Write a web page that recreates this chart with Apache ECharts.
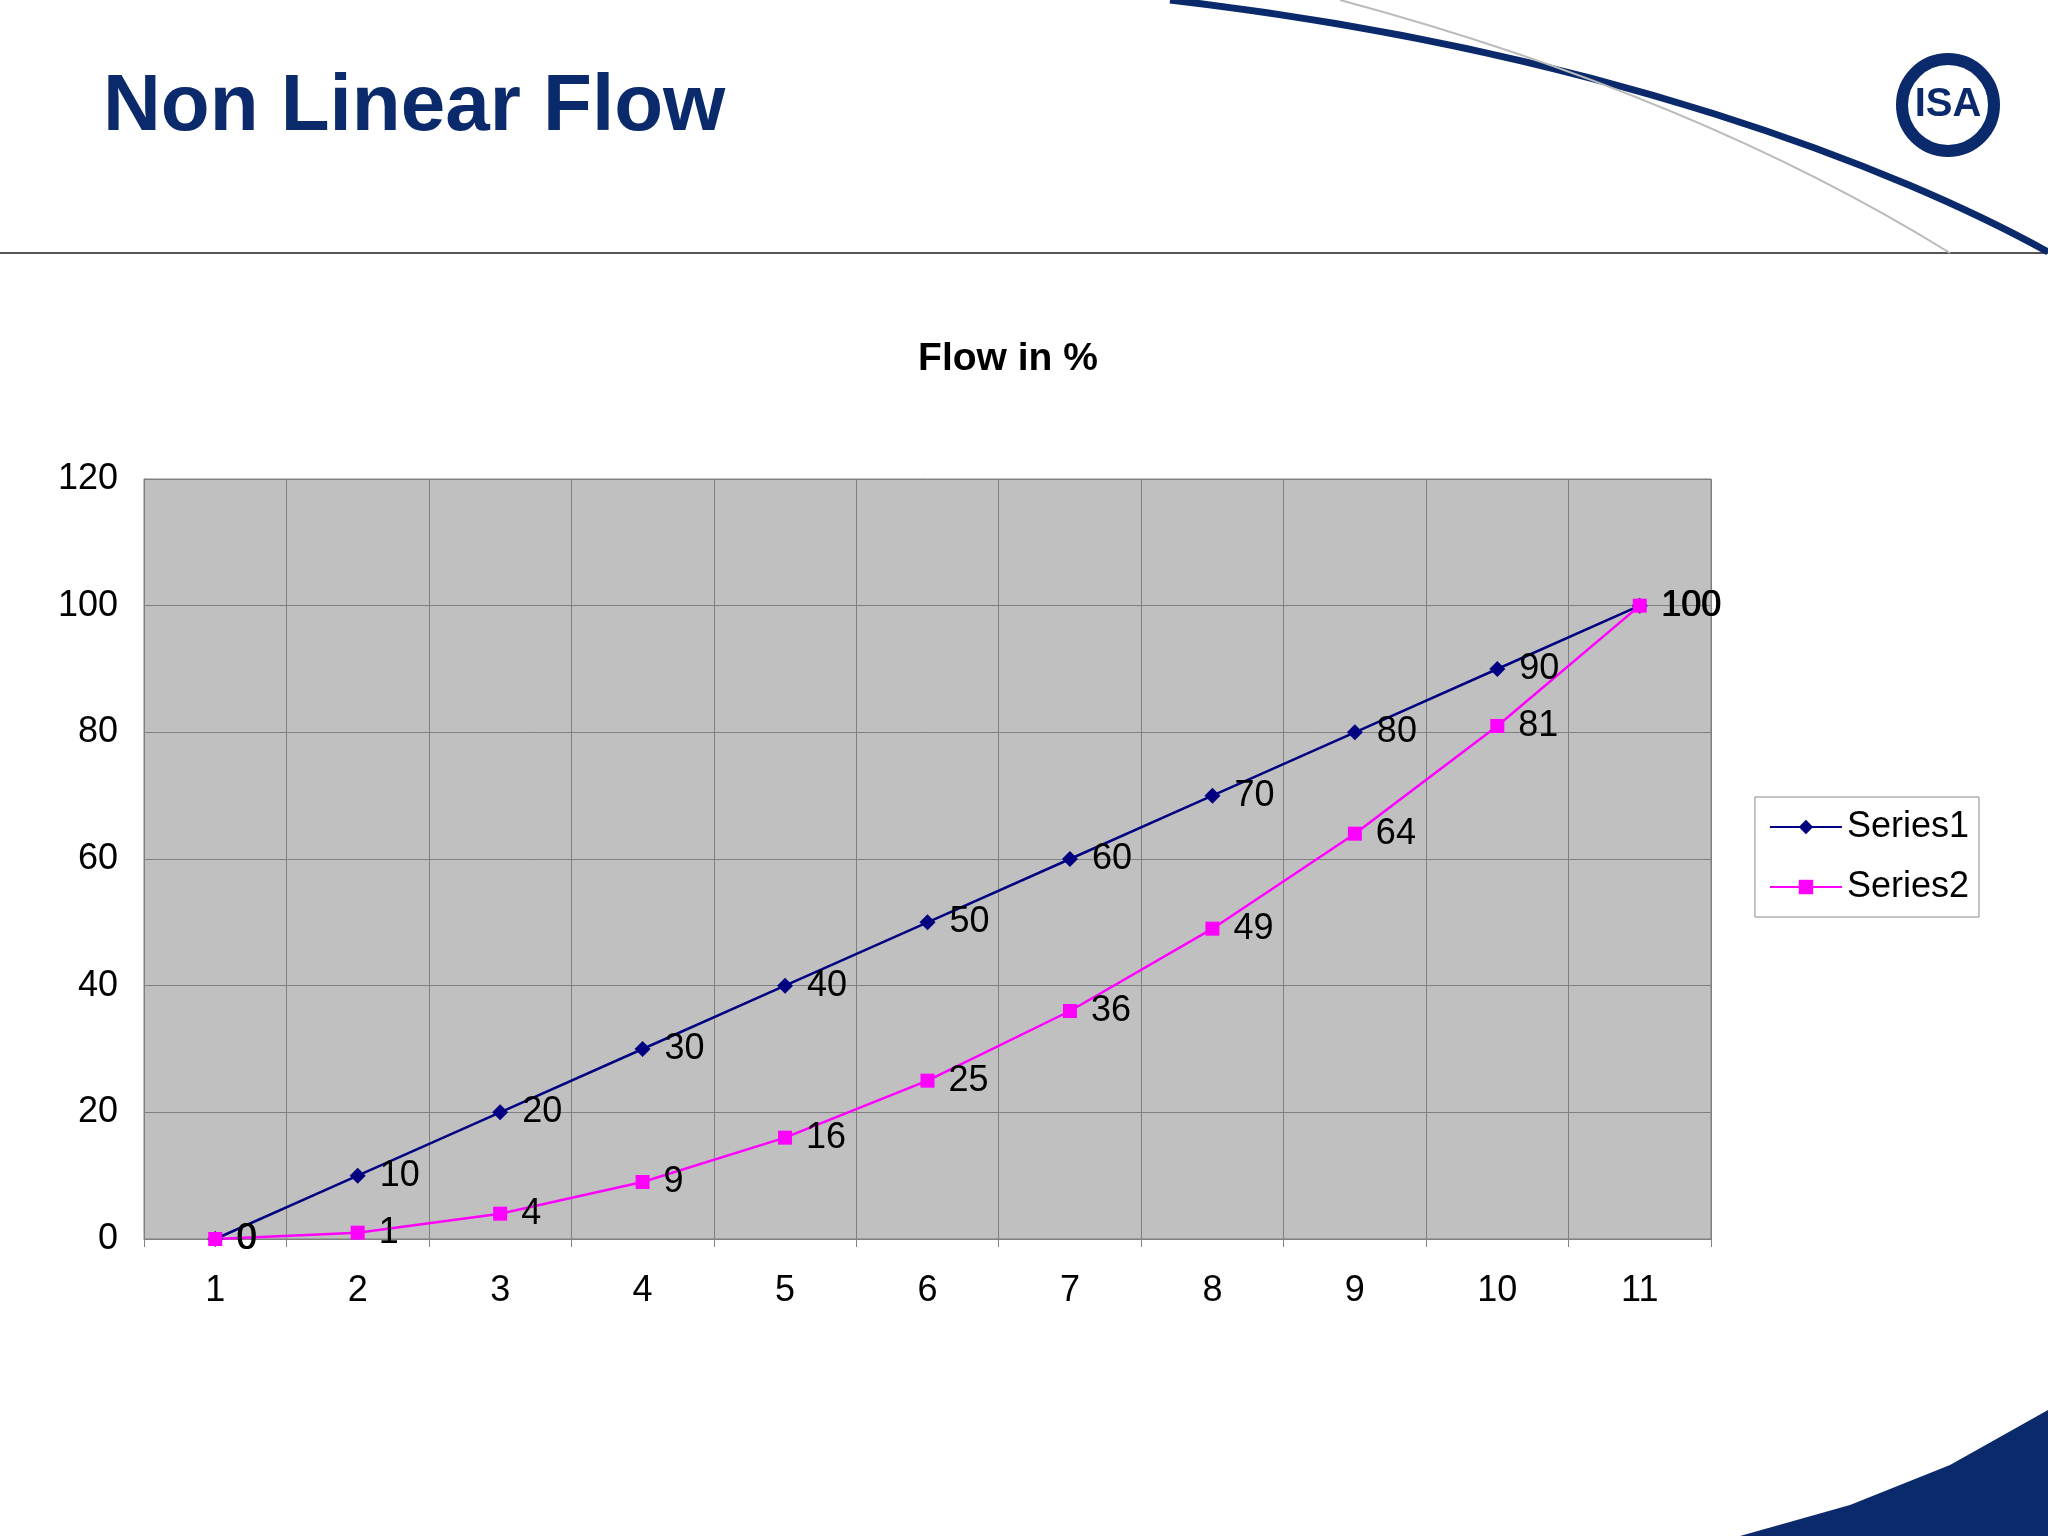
<!DOCTYPE html>
<html><head><meta charset="utf-8">
<script src="https://cdn.jsdelivr.net/npm/echarts@6/dist/echarts.min.js"></script>
<style>html,body{margin:0;background:#fff}#c{width:2048px;height:1536px}</style>
</head><body><div id="c"></div>
<script>
const categories = ['1','2','3','4','5','6','7','8','9','10','11'];
const series1 = [0,10,20,30,40,50,60,70,80,90,100];
const series2 = [0,1,4,9,16,25,36,49,64,81,100];
const chart = echarts.init(document.getElementById('c'));
const lbl = {show:true, position:'right', distance:14, fontSize:36, color:'#000', fontFamily:'Liberation Sans'};
chart.setOption({
  animation:false,
  title:[{text:'Non Linear Flow', left:98, top:63, textStyle:{fontSize:80, fontWeight:'bold', color:'#0b2a6b', fontFamily:'Liberation Sans'}},
         {text:'Flow in %', left:1003, top:335, textAlign:'center', textStyle:{fontSize:39, fontWeight:'bold', color:'#000', fontFamily:'Liberation Sans'}}],
  graphic:[
    {type:'line', shape:{x1:0,y1:253,x2:2048,y2:253}, style:{stroke:'#555', lineWidth:2}},
    {type:'bezierCurve', shape:{x1:1170,y1:0,x2:2048,y2:252,cpx1:1600,cpy1:50,cpx2:1900,cpy2:170}, style:{stroke:'#0b2a6b', lineWidth:7, fill:null}},
    {type:'bezierCurve', shape:{x1:1340,y1:0,x2:1950,y2:253,cpx1:1600,cpy1:70,cpx2:1800,cpy2:160}, style:{stroke:'#bbb', lineWidth:2, fill:null}},
    {type:'polygon', shape:{points:[[1740,1536],[1850,1505],[1950,1465],[2048,1410],[2048,1536]]}, style:{fill:'#0b2a6b'}},
    {type:'circle', shape:{cx:1948,cy:105,r:46}, style:{fill:'#fff', stroke:'#0b2a6b', lineWidth:12}},
    {type:'text', style:{x:1948,y:105,text:'ISA', align:'center', verticalAlign:'middle', font:'bold 40px Liberation Sans', fill:'#0b2a6b'}}
  ],
  grid:{left:144, right:337, top:479, bottom:297, show:true, backgroundColor:'#c0c0c0', borderColor:'#808080', borderWidth:1},
  legend:{right:69, top:797, orient:'vertical', itemWidth:72, itemHeight:18, itemGap:24, padding:[12,10,12,14],
    borderColor:'#888', borderWidth:1, textStyle:{fontSize:36, color:'#000', fontFamily:'Liberation Sans'}, data:['Series1','Series2']},
  xAxis:{type:'category', data:categories, boundaryGap:true,
    axisLine:{lineStyle:{color:'#808080'}}, axisTick:{show:true, length:8, lineStyle:{color:'#808080'}},
    axisLabel:{fontSize:36, color:'#000', margin:34, fontFamily:'Liberation Sans'},
    splitLine:{show:true, lineStyle:{color:'#808080'}}},
  yAxis:{type:'value', min:0, max:120, interval:20,
    axisLine:{show:true, lineStyle:{color:'#808080'}}, axisTick:{show:false},
    axisLabel:{fontSize:36, color:'#000', margin:26, fontFamily:'Liberation Sans'},
    splitLine:{lineStyle:{color:'#808080'}}},
  series:[
    {name:'Series1', type:'line', data:series1, symbol:'diamond', symbolSize:16, color:'#000080', lineStyle:{width:2.5}, label:lbl},
    {name:'Series2', type:'line', data:series2, symbol:'rect', symbolSize:14, color:'#ff00ff', lineStyle:{width:2.5}, label:lbl}
  ]
});
</script></body></html>
